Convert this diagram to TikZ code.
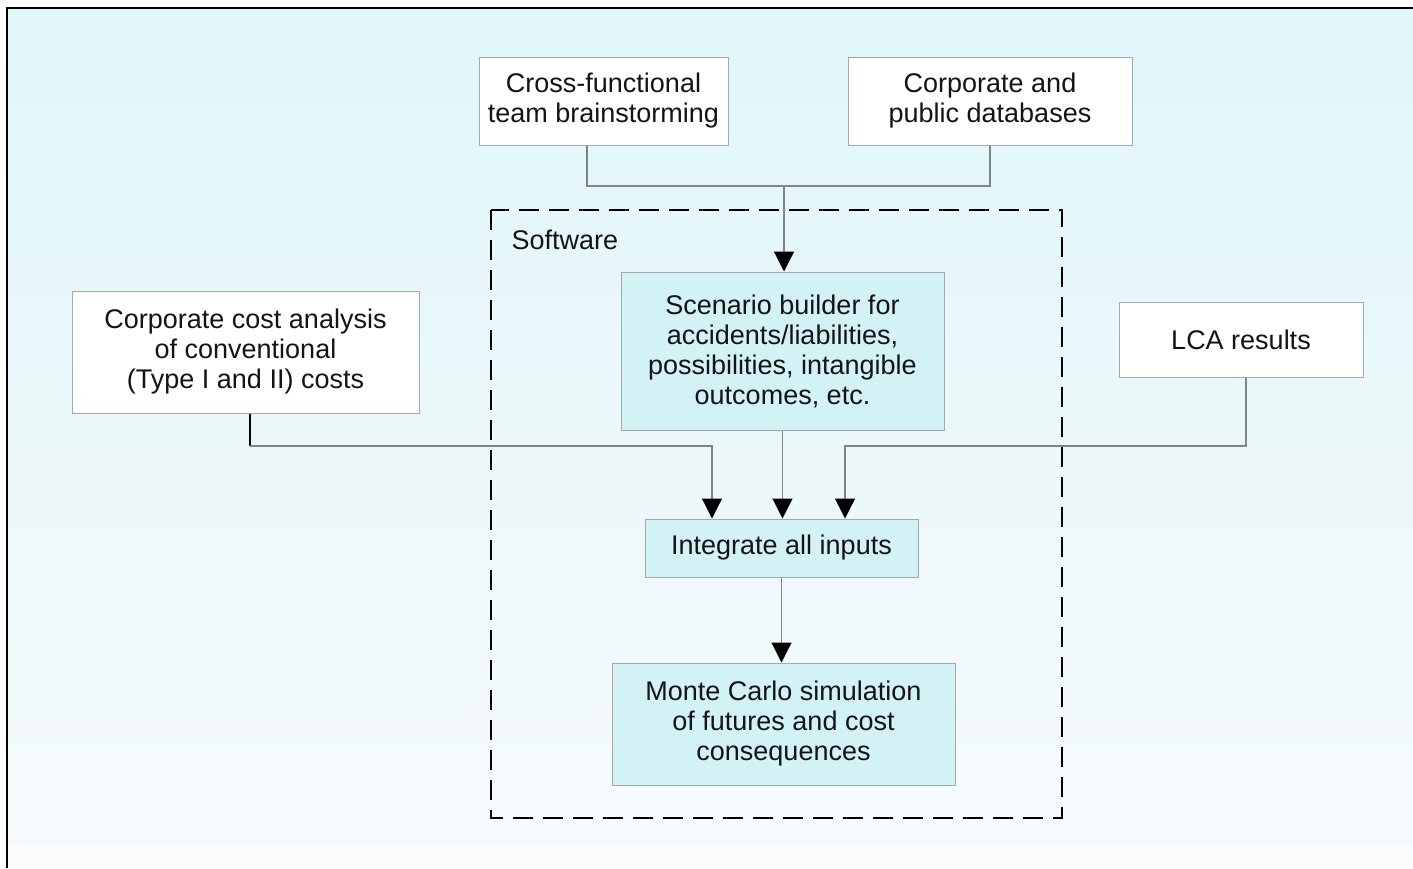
\documentclass[tikz,border=0pt]{standalone}
\usepackage{fontspec}
\setmainfont{Liberation Sans}
\usetikzlibrary{arrows.meta}
\definecolor{bgtop}{HTML}{E0F6F8}
\definecolor{bgbot}{HTML}{F6FAFC}
\definecolor{boxblue}{HTML}{D3F2F6}
\definecolor{boxline}{HTML}{A3A8AA}
\definecolor{conn}{HTML}{7F8486}
\definecolor{txt}{HTML}{141414}
\tikzset{
  whitebox/.style={draw=boxline, line width=1pt, fill=white, align=center, inner sep=0pt, text=txt,
    font=\fontsize{27}{30}\selectfont},
  bluebox/.style={whitebox, fill=boxblue},
  conline/.style={draw=conn, line width=1.2pt},
  arr/.style={conline, -{Triangle[width=20pt,length=20pt,color=black]}},
}
\begin{document}
\begin{tikzpicture}[x=1pt,y=-1pt]
\useasboundingbox (0,0) rectangle (1413,868);
\fill[white] (0,0) rectangle (1413,868);
\shade[top color=bgtop, bottom color=bgbot] (7,8) rectangle (1413,845);
\fill[bgbot!60!white] (7,845) rectangle (1413,868);
\draw[black, line width=2pt] (7,868) -- (7,8) -- (1413,8);

% dashed software frame
\draw[black, line width=2.5pt, dash pattern=on 20pt off 10pt] (491,210) rectangle (1062,818);
\node[anchor=west, text=txt, font=\fontsize{27}{30}\selectfont] (sw) at (508,240) {Software};

% nodes
\node[whitebox, minimum width=249pt, minimum height=88pt] (cross) at (603.5,101) {Cross-functional\\team brainstorming};
\node[whitebox, minimum width=284pt, minimum height=88pt] (cdb) at (990,101) {Corporate and\\public databases};
\node[bluebox, minimum width=323pt, minimum height=158pt] (scen) at (782.5,351) {Scenario builder for\\accidents/liabilities,\\possibilities, intangible\\outcomes, etc.};
\node[whitebox, minimum width=347pt, minimum height=122pt] (cost) at (245.5,352) {Corporate cost analysis\\of conventional\\(Type I and II) costs};
\node[whitebox, minimum width=244pt, minimum height=75pt] (lca) at (1241,339.5) {LCA results};
\node[bluebox, minimum width=273pt, minimum height=58pt] (integ) at (781.5,548) {Integrate all inputs};
\node[bluebox, minimum width=343pt, minimum height=122pt] (monte) at (783.5,724) {Monte Carlo simulation\\of futures and cost\\consequences};

% junction coordinates
\coordinate (jtop) at (784,186);
\coordinate (jcost) at (250,446);
\coordinate (jlca) at (1246,446);

% connectors
\draw[conline] (cross.south -| 587,0) |- (jtop) -| (cdb.south);
\draw[arr] (jtop) -- (scen.north -| jtop);
\draw[black, line width=2pt] (cost.south -| jcost) -- (jcost);
\draw[arr] (jcost) -| (integ.north -| 712,0);
\draw[arr] (lca.south -| jlca) |- (845,446) -- (integ.north -| 845,0);
\draw[arr] (scen.south) -- (integ.north -| scen.south);
\draw[arr] (integ.south) -- (monte.north -| integ.south);
\end{tikzpicture}
\end{document}
